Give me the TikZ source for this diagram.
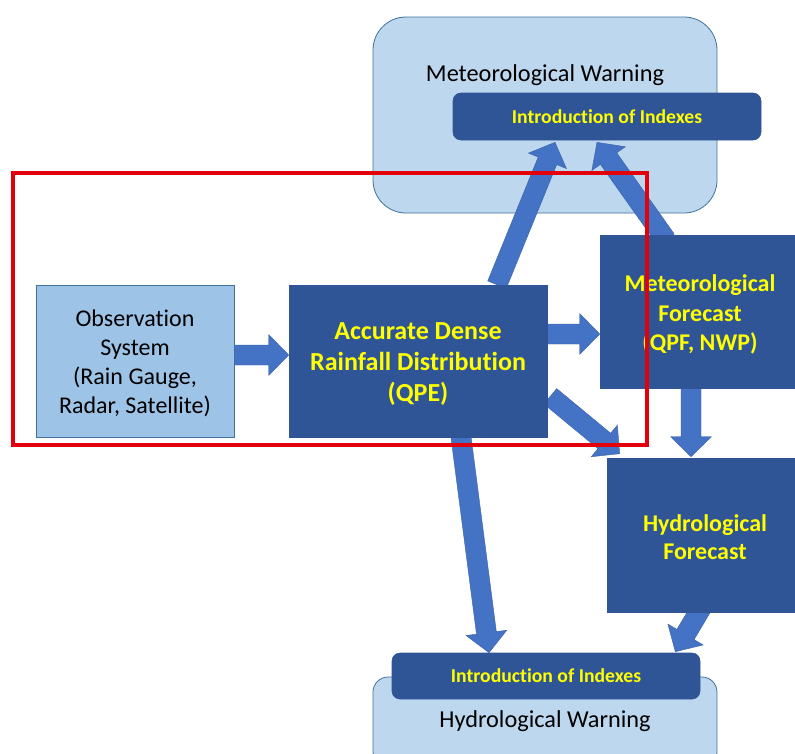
\documentclass[tikz,border=0pt]{standalone}
\usepackage{fontspec}
\setmainfont{Carlito}[Ligatures=NoCommon]
\usetikzlibrary{calc}

\definecolor{boxdark}{RGB}{47,85,151}
\definecolor{boxobs}{RGB}{157,195,230}
\definecolor{boxwarn}{RGB}{189,215,238}
\definecolor{boxedge}{RGB}{65,113,156}
\definecolor{flowblue}{RGB}{68,114,196}
\definecolor{textyellow}{RGB}{255,255,0}
\definecolor{frame}{RGB}{226,0,10}

\pgfdeclarelayer{bg}
\pgfdeclarelayer{flow}
\pgfdeclarelayer{front}
\pgfsetlayers{bg,flow,main,front}

\tikzset{
  darkbox/.style={draw=boxdark, line width=0.6pt, fill=boxdark, inner sep=0pt},
  darktext/.style={text=textyellow, align=center, inner sep=0pt,
    font=\fontsize{24}{29.5}\selectfont\bfseries},
  obsbox/.style={draw=boxedge, line width=0.8pt, fill=boxobs, inner sep=0pt},
  obstext/.style={text=black, align=center, inner sep=0pt,
    font=\fontsize{24}{29}\selectfont},
  warnbox/.style={draw=boxedge, line width=0.8pt, fill=boxwarn, inner sep=0pt},
  idxbox/.style={draw=boxdark, line width=0.6pt, fill=boxdark, text=textyellow,
    rounded corners=8pt, inner sep=0pt, minimum width=308pt, minimum height=47pt,
    font=\fontsize{19.7}{24}\selectfont\bfseries},
  warntitle/.style={inner sep=0pt, text=black, font=\fontsize{24.3}{29}\selectfont},
  flowarrow/.style={fill=flowblue, draw=flowblue!85!black, line width=0.4pt, line join=miter},
  redframe/.style={draw=frame, line width=4pt}
}

% block arrow from a tail point to a tip point
\newcommand\blockarrow[2]{%
  \coordinate (headbase) at ($(#2)!20pt!(#1)$);
  \filldraw[flowarrow]
    ($(#1)!10pt!90:(#2)$) -- ($(headbase)!10pt!90:(#2)$) --
    ($(headbase)!20.5pt!90:(#2)$) -- (#2) --
    ($(headbase)!20.5pt!-90:(#2)$) -- ($(headbase)!10pt!-90:(#2)$) --
    ($(#1)!10pt!-90:(#2)$) -- cycle;
}

\begin{document}
\begin{tikzpicture}[x=1pt,y=-1pt]
\useasboundingbox (0,0) rectangle (795,753);
\clip (0,0) rectangle (795,753);

% warning panels
\begin{pgfonlayer}{bg}
  \node[warnbox, rounded corners=33pt, minimum width=344pt, minimum height=196pt]
    (metwarn) at (545,115) {};
  \node[warnbox, rounded corners=15pt, minimum width=344pt, minimum height=90pt]
    (hydwarn) at (545,722) {};
\end{pgfonlayer}

\node[warntitle] (metwarnlbl) at (545,75) {Meteorological Warning};
\node[warntitle] (hydwarnlbl) at (545,721) {Hydrological Warning};

\node[idxbox] (topidx) at (607,116.5) {Introduction of Indexes};
\node[idxbox, minimum height=46pt] (botidx) at (546,676) {Introduction of Indexes};

% processing boxes
\node[obsbox, minimum width=198pt, minimum height=152pt] (obs) at (135,361) {};
\node[obstext] (obslbl) at ([yshift=-2.5pt]obs.center)
  {Observation\\System\\(Rain Gauge,\\Radar, Satellite)};

\node[darkbox, minimum width=258pt, minimum height=152pt] (qpe) at (418,361) {};
\node[darktext, font=\fontsize{26}{31}\selectfont\bfseries] (qpelbl)
  at ([yshift=-3pt]qpe.center) {Accurate Dense\\Rainfall Distribution\\(QPE)};

\node[darkbox, minimum width=200pt, minimum height=153pt] (metfc) at (700,311.5) {};
\node[darktext] (metfclbl) at ([yshift=-3pt]metfc.center)
  {Meteorological\\Forecast\\(QPF, NWP)};

\node[darkbox, minimum width=196pt, minimum height=154pt] (hydfc) at (705,535) {};
\node[darktext, font=\fontsize{24}{28}\selectfont\bfseries] (hydfclbl)
  at ([yshift=-2pt]hydfc.center) {Hydrological\\Forecast};

% arrow end points on the box edges
\coordinate (obsOut)  at ([yshift=6pt]obs.east);
\coordinate (qpeIn)   at ([yshift=6pt]qpe.west);
\coordinate (qpeE)    at ([yshift=27pt]qpe.east);
\coordinate (metIn)   at ([yshift=-22.5pt]metfc.west);
\coordinate (qpeN)    at ([xshift=79pt]qpe.north);
\coordinate (idxInA)  at ([xshift=-52pt,yshift=-2pt]topidx.south);
\coordinate (metN)    at ([xshift=-34pt,yshift=-5pt]metfc.north);
\coordinate (idxInB)  at ([xshift=-10pt,yshift=-2pt]topidx.south);
\coordinate (qpeSE)   at ([xshift=3pt,yshift=41pt]qpe.south east);
\coordinate (hydIn)   at ([xshift=13pt,yshift=4pt]hydfc.north west);
\coordinate (qpeS)    at ([xshift=42.5pt,yshift=4pt]qpe.south);
\coordinate (botInA)  at ([xshift=-57pt]botidx.north);
\coordinate (metS)    at ([xshift=-9pt]metfc.south);
\coordinate (hydN)    at ([xshift=-14pt,yshift=1pt]hydfc.north);
\coordinate (hydS)    at ([xshift=-4pt,yshift=4pt]hydfc.south);
\coordinate (botInB)  at ([xshift=-25pt,yshift=1pt]botidx.north east);

\begin{pgfonlayer}{flow}
  \blockarrow{obsOut}{qpeIn}
  \blockarrow{qpeE}{metIn}
  \blockarrow{qpeN}{idxInA}
  \blockarrow{metN}{idxInB}
  \blockarrow{qpeSE}{hydIn}
  \blockarrow{qpeS}{botInA}
  \blockarrow{metS}{hydN}
  \blockarrow{hydS}{botInB}
\end{pgfonlayer}

% highlight frame
\begin{pgfonlayer}{front}
  \draw[redframe] (12.5,173) rectangle (647,445);
\end{pgfonlayer}
\end{tikzpicture}
\end{document}
